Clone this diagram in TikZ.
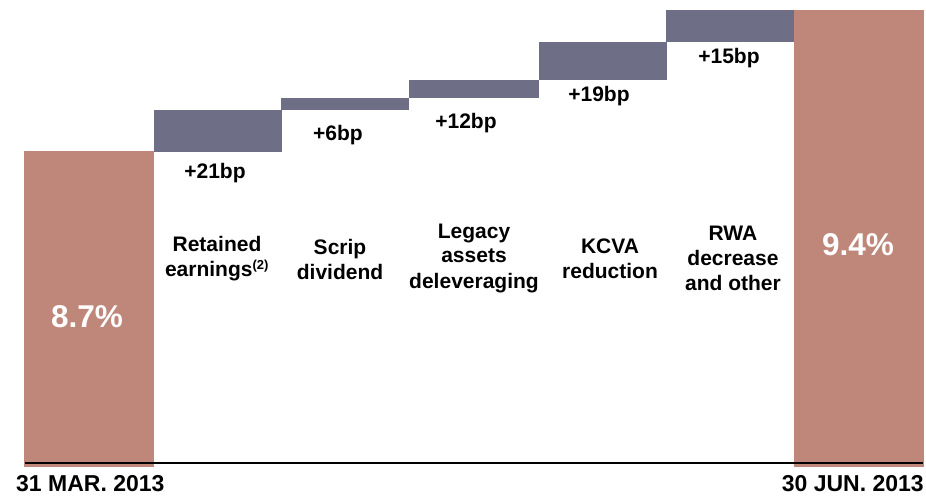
\documentclass[tikz,border=0pt]{standalone}
\usepackage{fontspec}
\setmainfont{Liberation Sans}
\definecolor{rust}{HTML}{BF877A}
\definecolor{slate}{HTML}{6E6E86}
\begin{document}
\begin{tikzpicture}[x=1pt,y=-1pt]
    \tikzset{every node/.style={inner sep=0pt, font=\bfseries\fontsize{21}{25}\selectfont, align=center}}
    \tikzset{big/.style={text=white, font=\bfseries\fontsize{31.5}{36}\selectfont}}
    \tikzset{datelbl/.style={font=\bfseries\fontsize{23}{27}\selectfont}}
    \useasboundingbox (0,0) rectangle (926,497);
    \fill [rust] (24,151) rectangle (154,466.5);
    \fill [slate] (154,110) rectangle (282,152);
    \fill [slate] (281,98) rectangle (409,110);
    \fill [slate] (409,80) rectangle (539,98);
    \fill [slate] (539,42) rectangle (667,80);
    \fill [slate] (666,10) rectangle (794,42);
    \fill [rust] (794,10) rectangle (924,466.5);
    \draw [black, line width=2pt] (25,462.5) -- (923,462.5);
    \node (start) at (87,317) [big] {8.7\%};
    \node (final) at (858,245) [big] {9.4\%};
    \node (d1) at (215,173) {+21bp};
    \node (d2) at (338,135) {+6bp};
    \node (d3) at (466,123) {+12bp};
    \node (d4) at (599,96) {+19bp};
    \node (d5) at (729,58) {+15bp};
    \node (c1) at (217,259) {Retained\\earnings\textsuperscript{\fontsize{13}{13}\selectfont(2)}};
    \node (c2) at (340,259) {Scrip\\dividend};
    \node (c3) at (474,258) {Legacy\\assets\\deleveraging};
    \node (c4) at (610,259) {KCVA\\reduction};
    \node (c5) at (733,258) {RWA\\decrease\\and other};
    \node (t0) at (16,491) [datelbl, anchor=base west] {31 MAR. 2013};
    \node (t1) at (924,491) [datelbl, anchor=base east] {30 JUN. 2013};
\end{tikzpicture}
\end{document}
